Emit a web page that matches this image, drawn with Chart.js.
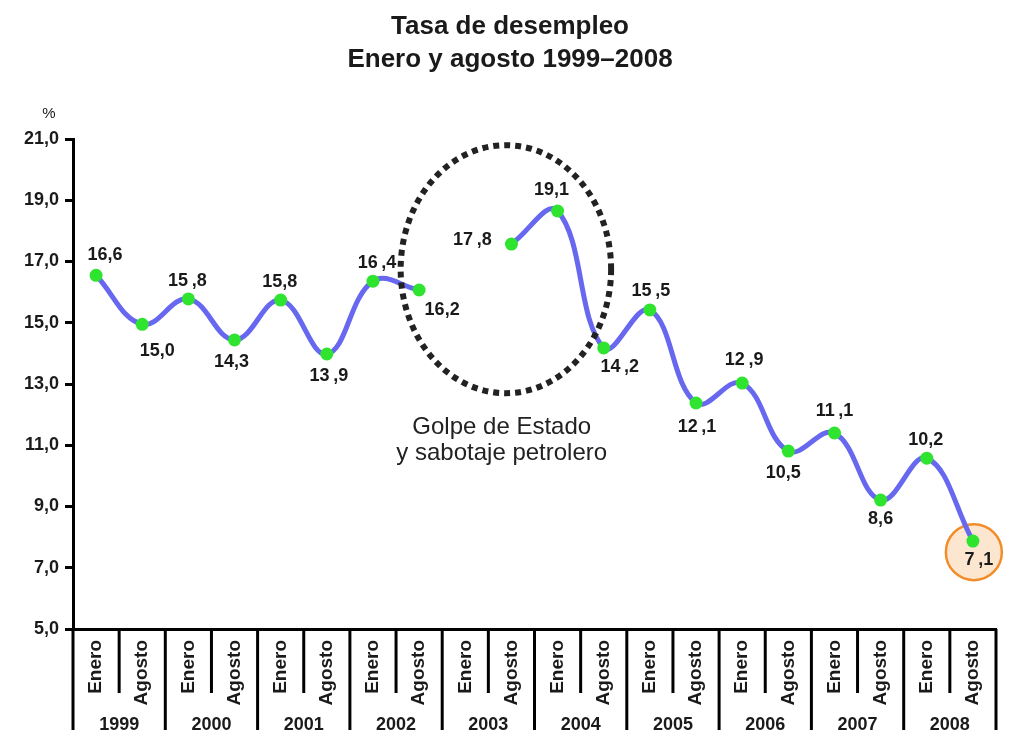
<!DOCTYPE html>
<html lang="es">
<head>
<meta charset="utf-8">
<title>Tasa de desempleo</title>
<script src="https://cdn.jsdelivr.net/npm/chart.js@4.4.1/dist/chart.umd.min.js"></script>
<style>
	html, body { margin: 0; padding: 0; background: #fff; }
	#wrap { width: 1012px; height: 730px; }
</style>
</head>
<body>
<div id="wrap"><canvas id="tasaChart" width="1012" height="730"></canvas></div>
<script>
// Categorías: dos mediciones por año
const anios = ['1999', '2000', '2001', '2002', '2003', '2004', '2005', '2006', '2007', '2008'];
const meses = ['Enero', 'Agosto'];
const periodos = anios.flatMap(() => meses);

// Cifras publicadas (rótulos de cada punto)
const tasaRotulos = ['16,6', '15,0', '15\u2009,8', '14,3', '15,8', '13\u2009,9', '16\u2009,4', '16,2', null, '17\u2009,8',
	'19,1', '14\u2009,2', '15\u2009,5', '12\u2009,1', '12\u2009,9', '10,5', '11\u2009,1', '8,6', '10,2', '7\u2009,1'];

// Altura a la que aparece cada punto en el gráfico (%)
const tasaGrafico = [16.55, 14.95, 15.78, 14.44, 15.74, 13.98, 16.36, 16.07, null, 17.57,
	18.65, 14.18, 15.42, 12.38, 13.03, 10.81, 11.40, 9.21, 10.58, 7.87];

// Eje Y
const yMin = 5;
const yMax = 21;
const yPaso = 2;

const FUENTE = '"Liberation Sans", Arial, Helvetica, sans-serif';
const TINTA = '#1a1a1a';

// desplazamiento de cada rótulo respecto a su punto (px)
const desplazRotulos = [
	[9, -20], [15, 27], [-1, -18], [-3, 22], [-1, -18], [2, 22], [4, -18], [23, 20], null, [-39, -4],
	[-6, -21], [16, 19], [1, -19], [1, 24], [2, -23], [-5, 22], [0, -22], [0, 19], [-1, -18], [6, 19]
];

const rotulosPlugin = {
	id: 'rotulos',
	afterDatasetsDraw(chart) {
		const ctx = chart.ctx;
		const meta = chart.getDatasetMeta(0);
		ctx.save();
		ctx.font = 'bold 18px ' + FUENTE;
		ctx.fillStyle = TINTA;
		ctx.textAlign = 'center';
		ctx.textBaseline = 'middle';
		tasaRotulos.forEach((txt, i) => {
			if (txt === null) return;
			const p = meta.data[i];
			const d = desplazRotulos[i];
			ctx.fillText(txt, p.x + d[0], p.y + d[1]);
		});
		ctx.restore();
	}
};

// Marco bajo el eje X: separadores y años
const marcoPlugin = {
	id: 'marcoX',
	afterDraw(chart) {
		const ctx = chart.ctx;
		const x = chart.scales.x;
		const area = chart.chartArea;
		ctx.save();
		ctx.strokeStyle = '#000';
		ctx.lineWidth = 3;
		for (let k = 0; k <= periodos.length; k++) {
			const px = x.getPixelForValue(k - 0.5);
			const fin = (k % 2 === 0) ? chart.height : area.bottom + 64;
			ctx.beginPath();
			ctx.moveTo(px, area.bottom);
			ctx.lineTo(px, fin);
			ctx.stroke();
		}
		ctx.font = 'bold 18px ' + FUENTE;
		ctx.fillStyle = TINTA;
		ctx.textAlign = 'center';
		ctx.textBaseline = 'top';
		anios.forEach((a, j) => {
			ctx.fillText(a, x.getPixelForValue(2 * j + 0.5), area.bottom + 87);
		});
		ctx.restore();
	}
};

// Anotaciones: elipse punteada, texto, círculo del último dato y "%"
const anotacionesPlugin = {
	id: 'anotaciones',
	beforeDatasetsDraw(chart) {
		const ctx = chart.ctx;
		const x = chart.scales.x;
		const y = chart.scales.y;
		ctx.save();
		ctx.beginPath();
		ctx.arc(x.getPixelForValue(19.02), y.getPixelForValue(7.51), 28, 0, Math.PI * 2);
		ctx.fillStyle = '#fde6cf';
		ctx.fill();
		ctx.lineWidth = 2.5;
		ctx.strokeStyle = '#f28c28';
		ctx.stroke();
		ctx.restore();
	},
	afterDatasetsDraw(chart) {
		const ctx = chart.ctx;
		const x = chart.scales.x;
		const y = chart.scales.y;
		const area = chart.chartArea;
		ctx.save();
		const cx = x.getPixelForValue(8.88);
		const cy = y.getPixelForValue(16.75);
		const rx = x.getPixelForValue(8.88 + 2.28) - cx;
		const ry = y.getPixelForValue(16.75 - 4.05) - cy;
		ctx.beginPath();
		ctx.ellipse(cx, cy, rx, ry, 0, 0, Math.PI * 2);
		ctx.setLineDash([6, 5]);
		ctx.lineWidth = 6;
		ctx.strokeStyle = '#222';
		ctx.stroke();
		ctx.setLineDash([]);

		ctx.font = '24px ' + FUENTE;
		ctx.fillStyle = '#222';
		ctx.textAlign = 'center';
		ctx.textBaseline = 'alphabetic';
		const tx = x.getPixelForValue(8.79);
		const ty = y.getPixelForValue(11.37);
		ctx.fillText('Golpe de Estado', tx, ty);
		ctx.fillText('y sabotaje petrolero', tx, ty + 26);

		ctx.font = '15px ' + FUENTE;
		ctx.fillStyle = TINTA;
		ctx.textBaseline = 'middle';
		ctx.fillText('%', area.left - 24, area.top - 25);
		ctx.restore();
	}
};

const ctx = document.getElementById('tasaChart');
ctx.chart = new Chart(ctx, {
	type: 'line',
	data: {
		labels: periodos,
		datasets: [{
			data: tasaGrafico,
			borderColor: '#6767ef',
			borderWidth: 5,
			tension: 0.4,
			spanGaps: false,
			pointRadius: 6.5,
			pointBackgroundColor: '#2fe42f',
			pointBorderWidth: 0,
			clip: false
		}]
	},
	options: {
		responsive: false,
		animation: false,
		devicePixelRatio: 1,
		layout: {
			padding: { top: 0, right: 16, bottom: 0, left: 24 }
		},
		plugins: {
			legend: { display: false },
			tooltip: { enabled: false },
			title: {
				display: true,
				text: ['Tasa de desempleo', 'Enero y agosto 1999\u20132008'],
				color: TINTA,
				font: { family: FUENTE, size: 26, weight: 'bold', lineHeight: 1.27 },
				padding: { top: 10, bottom: 63 }
			}
		},
		scales: {
			x: {
				offset: true,
				grid: { display: false },
				border: { display: true, color: '#000', width: 3 },
				ticks: {
					autoSkip: false,
					minRotation: 90,
					maxRotation: 90,
					padding: 3,
					color: TINTA,
					font: { family: FUENTE, size: 19, weight: 'bold' }
				},
				afterFit(scale) {
					scale.height = 101;
					scale.paddingLeft = 0;
					scale.paddingRight = 0;
				}
			},
			y: {
				min: yMin,
				max: yMax,
				grid: {
					drawOnChartArea: false,
					drawTicks: true,
					tickLength: 8,
					color: '#000',
					lineWidth: 3
				},
				border: { display: true, color: '#000', width: 3 },
				ticks: {
					stepSize: yPaso,
					padding: 6,
					color: TINTA,
					font: { family: FUENTE, size: 18, weight: 'bold' },
					callback: v => v.toFixed(1).replace('.', ',')
				},
				afterFit(scale) {
					scale.width = 49;
					scale.paddingTop = 0;
					scale.paddingBottom = 0;
				}
			}
		}
	},
	plugins: [anotacionesPlugin, rotulosPlugin, marcoPlugin]
});
</script>
</body>
</html>
